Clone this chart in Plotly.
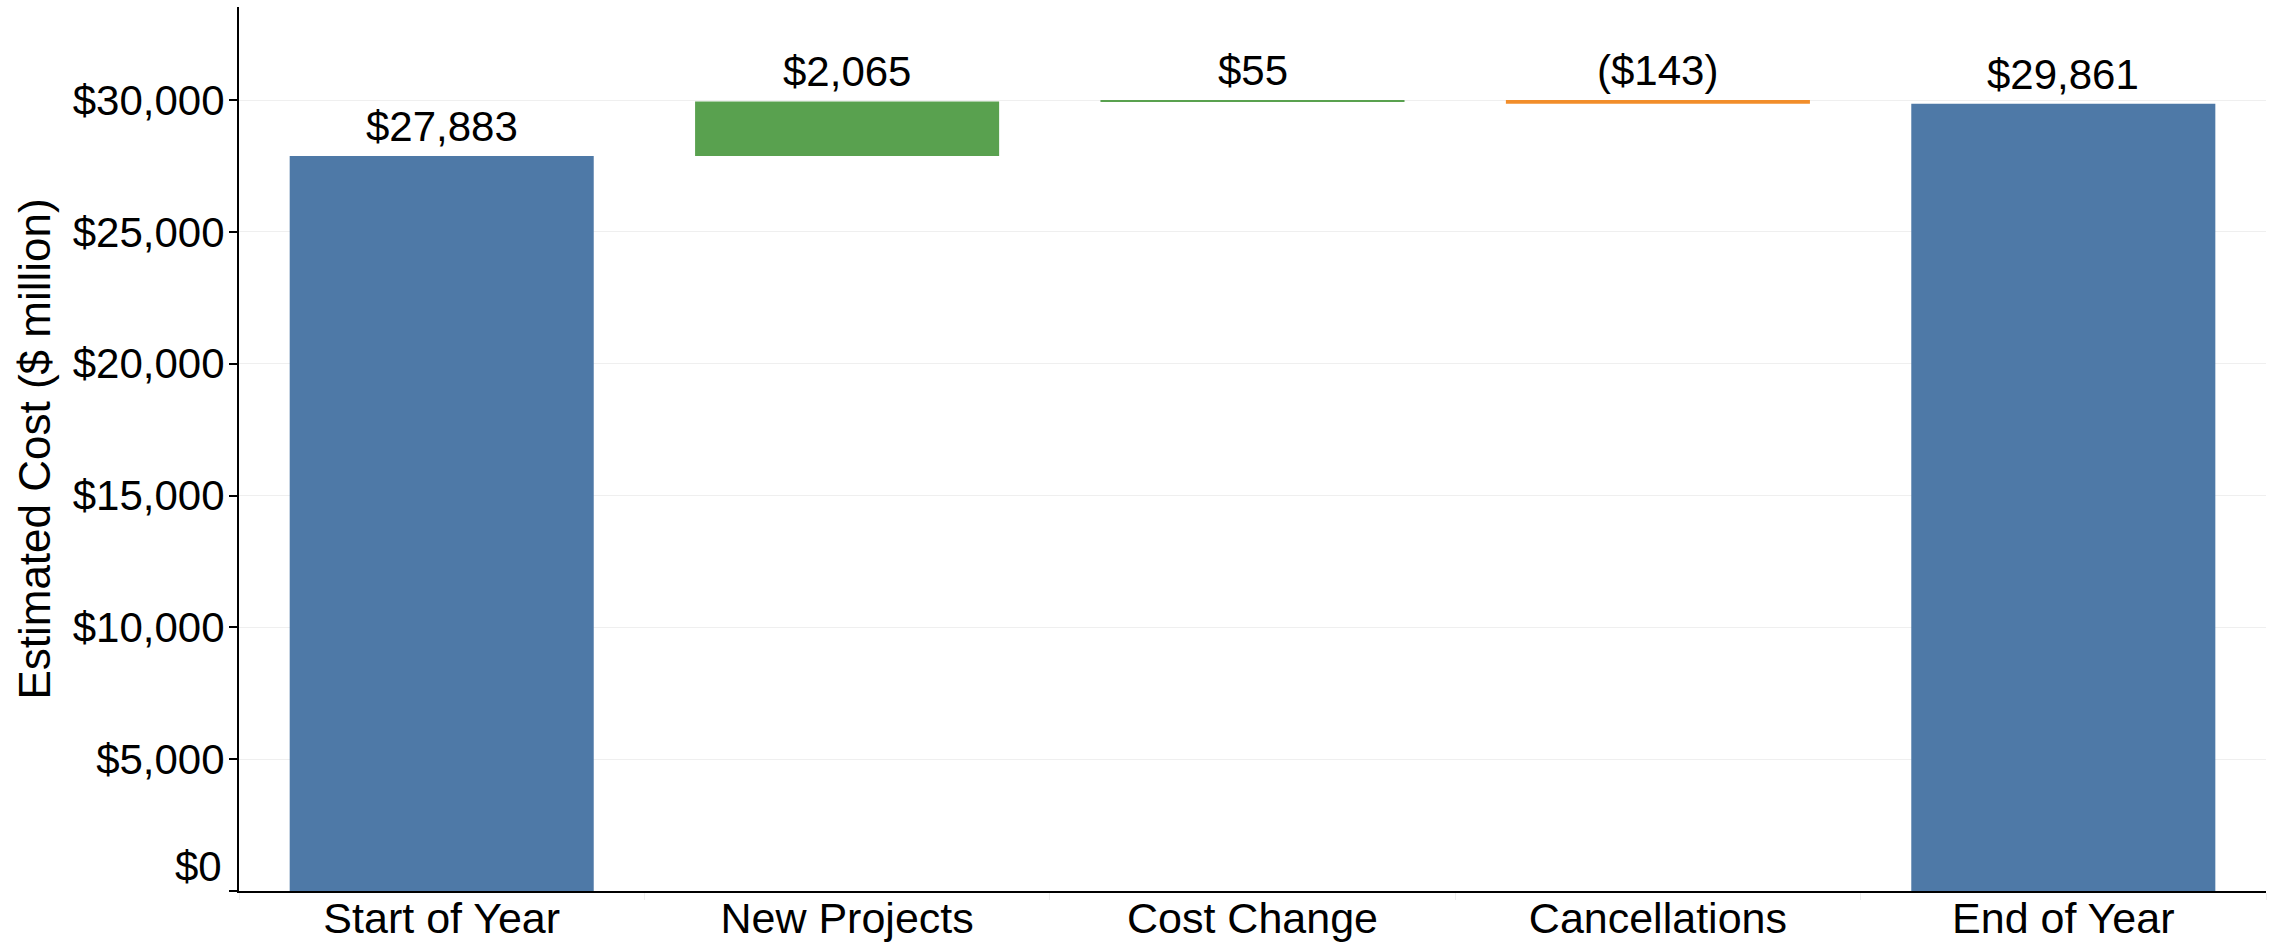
import plotly.graph_objects as go

categories = ["Start of Year", "New Projects", "Cost Change", "Cancellations", "End of Year"]
values = [27883, 2065, 55, -143, 29861]
measures = ["absolute", "relative", "relative", "relative", "absolute"]
labels = ["$27,883", "$2,065", "$55", "($143)", "$29,861"]
tick_vals = [0, 5000, 10000, 15000, 20000, 25000, 30000]
tick_text = ["$0", "$5,000", "$10,000", "$15,000", "$20,000", "$25,000", "$30,000"]

BLUE = "#4E79A7"
GREEN = "#59A14F"
ORANGE = "#F28E2B"
FONT = "Arial, Liberation Sans, sans-serif"

bases, heights, colors, tops = [], [], [], []
running = 0
for v, m in zip(values, measures):
    if m == "absolute":
        bases.append(0)
        heights.append(v)
        colors.append(BLUE)
        running = v
        tops.append(v)
    else:
        bases.append(running)
        heights.append(v)
        colors.append(GREEN if v >= 0 else ORANGE)
        tops.append(max(running, running + v))
        running += v

fig = go.Figure()
fig.add_trace(go.Bar(
    x=categories, y=heights, base=bases,
    marker=dict(color=colors, line=dict(width=0)),
    hoverinfo="skip", showlegend=False,
))

for c, t, lab in zip(categories, tops, labels):
    fig.add_annotation(
        x=c, y=t, text=lab, showarrow=False, xref="x", yref="y",
        yanchor="bottom", yshift=4,
        font=dict(family=FONT, size=42, color="black"),
    )

# the bottom tick label sits just above the baseline, as in the reference
shown_ticktext = [""] + tick_text[1:]
fig.add_annotation(
    x=0, y=tick_vals[0], xref="paper", yref="y", text=tick_text[0],
    showarrow=False, xanchor="right", yanchor="bottom", xshift=-15, yshift=-1,
    font=dict(family=FONT, size=42, color="black"),
)

fig.update_layout(
    width=2272, height=949,
    margin=dict(l=239, r=6, t=7, b=58, autoexpand=False),
    paper_bgcolor="white", plot_bgcolor="white",
    bargap=0.25,
    font=dict(family=FONT, size=42, color="black"),
)
fig.update_xaxes(
    showline=True, linecolor="black", linewidth=2,
    showgrid=False, ticks="outside", tickson="boundaries",
    ticklen=7, tickcolor="#eeeeee", tickwidth=1,
    automargin=False, ticklabelstandoff=-12,
    tickfont=dict(family=FONT, size=43, color="black"),
)
fig.update_yaxes(
    range=[0, 33530], tickvals=tick_vals, ticktext=shown_ticktext,
    showline=True, linecolor="black", linewidth=2,
    ticks="outside", ticklen=8, tickcolor="black", tickwidth=2,
    showgrid=True, gridcolor="#efefef", gridwidth=1,
    zeroline=False, automargin=False, ticklabelstandoff=-4,
    tickfont=dict(family=FONT, size=42, color="black"),
    title=dict(text="Estimated Cost ($ million)", font=dict(family=FONT, size=44, color="black"), standoff=8),
)

fig.write_html(
    "out.html",
    config={"displayModeBar": False},
    post_script="document.body.style.margin='0';document.body.style.overflow='hidden';",
)
